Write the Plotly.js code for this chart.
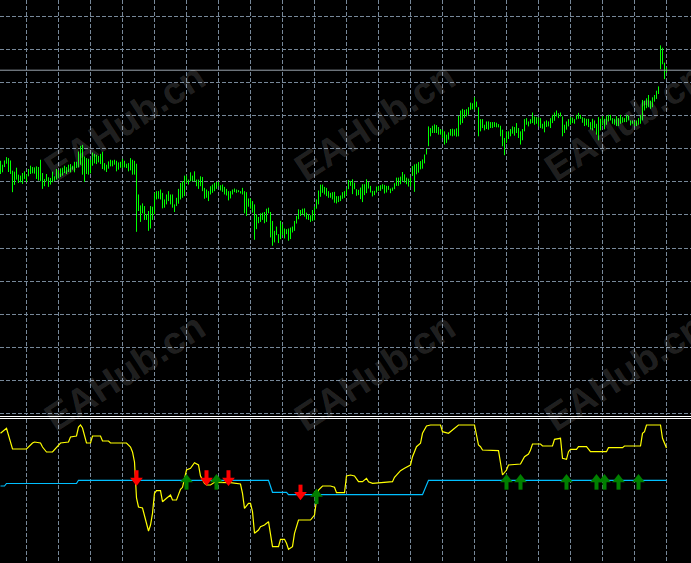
<!DOCTYPE html>
<html><head><meta charset="utf-8">
<script src="https://cdn.plot.ly/plotly-3.0.1.min.js"></script>
<style>html,body{margin:0;padding:0;background:#000;overflow:hidden}#chart{width:691px;height:563px}</style>
</head><body><div id="chart"></div>
<script>
// ---- price bars (high / low), one per bar index ----
const highs = [
1.30764,1.30752,1.30765,1.30775,1.30772,1.30765,1.30734,1.30731,1.30743,1.30722,
1.30719,1.30727,1.30732,1.30722,1.30739,1.30749,1.30745,1.30744,1.30747,1.30745,
1.30767,1.30727,1.30709,1.30724,1.30714,1.30712,1.30731,1.30717,1.30739,1.30735,
1.30741,1.30743,1.30749,1.30745,1.30752,1.30754,1.30749,1.30761,1.30761,1.30792,
1.30809,1.30812,1.30777,1.30772,1.30770,1.30767,1.30789,1.30785,1.30782,1.30779,
1.30785,1.30791,1.30757,1.30752,1.30762,1.30767,1.30765,1.30767,
1.30764,1.30759,1.30761,1.30770,1.30764,1.30755,1.30757,1.30772,1.30767,1.30764,
1.30755,1.30662,1.30629,1.30635,1.30627,1.30602,1.30612,1.30627,1.30625,1.30667,
1.30672,1.30672,1.30677,1.30667,1.30647,1.30662,1.30672,1.30662,1.30662,1.30632,
1.30652,1.30679,1.30697,1.30702,1.30719,1.30719,1.30707,1.30729,1.30719,1.30732,
1.30707,1.30707,1.30717,1.30715,1.30682,1.30677,1.30672,1.30687,1.30692,1.30697,
1.30700,1.30700,1.30690,1.30692,1.30685,1.30679,1.30672,
1.30672,1.30677,1.30680,1.30677,1.30675,1.30672,1.30682,1.30672,1.30669,1.30650,
1.30650,1.30642,1.30632,1.30602,1.30594,1.30605,1.30607,1.30609,1.30619,1.30622,
1.30609,1.30582,1.30552,1.30565,1.30542,1.30582,1.30572,1.30559,1.30557,1.30559,
1.30562,1.30565,1.30582,1.30597,1.30617,1.30615,1.30619,1.30620,1.30607,1.30602,
1.30599,1.30615,1.30625,1.30647,1.30674,1.30692,1.30692,1.30685,1.30682,1.30672,
1.30667,1.30669,1.30670,1.30657,1.30657,1.30659,1.30669,1.30672,
1.30680,1.30706,1.30703,1.30708,1.30698,1.30678,1.30676,1.30683,1.30693,1.30693,
1.30708,1.30700,1.30688,1.30673,1.30673,1.30686,1.30688,1.30690,1.30693,1.30691,
1.30688,1.30688,1.30680,1.30683,1.30696,1.30713,1.30713,1.30716,1.30730,1.30723,
1.30713,1.30710,1.30713,1.30748,1.30753,1.30755,1.30760,1.30763,1.30768,1.30783,
1.30800,1.30868,1.30863,1.30870,1.30874,1.30872,1.30866,1.30860,1.30858,1.30853,
1.30843,1.30850,1.30860,1.30861,1.30859,1.30862,1.30900,
1.30916,1.30921,1.30918,1.30920,1.30926,1.30940,1.30938,1.30956,1.30943,1.30926,
1.30890,1.30890,1.30873,1.30883,1.30883,1.30881,1.30881,1.30881,1.30879,1.30875,
1.30870,1.30858,1.30833,1.30853,1.30853,1.30860,1.30868,1.30866,1.30878,1.30863,
1.30853,1.30860,1.30890,1.30893,1.30883,1.30890,1.30910,1.30898,1.30896,1.30895,
1.30893,1.30876,1.30883,1.30886,1.30883,1.30893,1.30903,1.30910,1.30916,1.30908,
1.30910,1.30898,1.30873,1.30883,1.30890,1.30896,1.30895,1.30890,
1.30903,1.30909,1.30903,1.30896,1.30893,1.30891,1.30891,1.30881,1.30891,1.30886,
1.30876,1.30896,1.30891,1.30899,1.30891,1.30899,1.30903,1.30903,1.30893,1.30891,
1.30899,1.30893,1.30903,1.30896,1.30893,1.30903,1.30901,1.30886,1.30886,1.30883,
1.30886,1.30893,1.30903,1.30948,1.30946,1.30953,1.30963,1.30946,1.30956,1.30963,
1.30976,1.30989,1.31113,1.31106,1.31061,1.31046
];
const lows = [
1.30724,1.30729,1.30745,1.30755,1.30730,1.30724,1.30669,1.30691,1.30707,1.30697,
1.30699,1.30694,1.30709,1.30699,1.30717,1.30724,1.30726,1.30725,1.30709,1.30704,
1.30702,1.30679,1.30687,1.30702,1.30685,1.30692,1.30699,1.30703,1.30707,1.30711,
1.30715,1.30719,1.30727,1.30724,1.30730,1.30729,1.30737,1.30729,1.30742,1.30744,
1.30752,1.30722,1.30700,1.30724,1.30722,1.30726,1.30749,1.30756,1.30754,1.30759,
1.30754,1.30739,1.30735,1.30730,1.30740,1.30747,1.30747,1.30752,
1.30732,1.30737,1.30743,1.30742,1.30744,1.30742,1.30732,1.30735,1.30722,1.30722,
1.30549,1.30612,1.30579,1.30605,1.30585,1.30585,1.30552,1.30559,1.30585,1.30602,
1.30647,1.30649,1.30647,1.30620,1.30622,1.30632,1.30642,1.30632,1.30622,1.30609,
1.30627,1.30634,1.30647,1.30652,1.30657,1.30697,1.30692,1.30702,1.30702,1.30702,
1.30687,1.30679,1.30687,1.30672,1.30649,1.30652,1.30642,1.30662,1.30667,1.30672,
1.30679,1.30687,1.30674,1.30670,1.30662,1.30659,1.30644,
1.30650,1.30662,1.30669,1.30667,1.30669,1.30665,1.30662,1.30605,1.30597,1.30625,
1.30619,1.30607,1.30525,1.30557,1.30575,1.30579,1.30585,1.30575,1.30579,1.30605,
1.30532,1.30507,1.30517,1.30539,1.30515,1.30527,1.30539,1.30529,1.30542,1.30522,
1.30527,1.30547,1.30552,1.30574,1.30587,1.30597,1.30602,1.30595,1.30587,1.30585,
1.30579,1.30582,1.30584,1.30619,1.30632,1.30655,1.30667,1.30662,1.30657,1.30652,
1.30652,1.30647,1.30637,1.30635,1.30639,1.30642,1.30649,1.30652,
1.30660,1.30678,1.30688,1.30663,1.30678,1.30658,1.30660,1.30648,1.30639,1.30660,
1.30666,1.30680,1.30668,1.30656,1.30660,1.30668,1.30673,1.30673,1.30678,1.30665,
1.30668,1.30676,1.30666,1.30673,1.30678,1.30688,1.30688,1.30693,1.30703,1.30698,
1.30693,1.30686,1.30686,1.30718,1.30670,1.30723,1.30728,1.30738,1.30740,1.30756,
1.30783,1.30808,1.30838,1.30848,1.30848,1.30848,1.30843,1.30843,1.30833,1.30813,
1.30818,1.30828,1.30840,1.30838,1.30840,1.30837,1.30838,
1.30873,1.30878,1.30893,1.30898,1.30903,1.30918,1.30920,1.30918,1.30926,1.30838,
1.30853,1.30863,1.30856,1.30860,1.30858,1.30863,1.30863,1.30866,1.30865,1.30865,
1.30838,1.30808,1.30781,1.30818,1.30830,1.30838,1.30846,1.30840,1.30848,1.30833,
1.30813,1.30826,1.30853,1.30873,1.30868,1.30876,1.30878,1.30873,1.30876,1.30868,
1.30863,1.30861,1.30850,1.30866,1.30868,1.30863,1.30878,1.30885,1.30898,1.30893,
1.30898,1.30838,1.30848,1.30858,1.30868,1.30873,1.30878,1.30876,
1.30889,1.30891,1.30891,1.30879,1.30869,1.30871,1.30866,1.30859,1.30856,1.30863,
1.30843,1.30826,1.30856,1.30871,1.30859,1.30873,1.30883,1.30886,1.30876,1.30873,
1.30869,1.30869,1.30876,1.30879,1.30881,1.30881,1.30886,1.30871,1.30876,1.30869,
1.30869,1.30873,1.30876,1.30886,1.30916,1.30923,1.30926,1.30921,1.30926,1.30943,
1.30951,1.30966,1.31041,1.31056,1.31011,1.31031
];
const bidPrice = 1.31038;

// ---- indicator window: signal line (yellow) vertices ----
const sigBar = [0,3,6,13,16,17,20,21,23,26,30,34,35,38,39,40,41,42,43,45,46,50,51,54,55,63,65,66,67,68,69,71,73,74,75,76,77,78,80,81,83,85,86,88,90,91,93,95,97,99,100,102,103,105,107,115,120,121,122,124,125,126,127,129,130,132,134,135,136,139,140,142,143,144,146,147,149,155,157,158,159,161,165,167,168,172,173,175,177,179,181,183,184,186,190,196,197,200,202,205,206,208,210,211,213,215,220,221,224,226,229,237,239,240,241,249,250,251,253,254,260,262,264,265,266,270,271,276,277,280,281,283,284,285,288,289,293,295,303,304,311,312,320,321,322,323,330,331,333];
const sigVal = [4.70,5.20,3.13,3.13,3.73,3.83,3.73,3.33,2.83,2.83,3.73,3.83,4.33,4.43,5.33,5.53,5.23,4.33,3.73,3.73,4.43,4.43,3.93,3.93,3.73,3.73,3.33,2.83,1.83,-1.77,-2.67,-2.77,-4.27,-5.07,-4.47,-3.30,-1.30,-1.04,-1.04,-2.14,-1.80,-1.47,-1.97,-1.97,-0.90,-0.70,1.03,1.20,1.76,1.53,0.43,-0.30,-0.47,-0.47,-0.20,-0.24,-0.37,-1.30,-2.80,-2.30,-2.30,-3.14,-5.30,-4.97,-4.64,-4.47,-4.14,-5.64,-6.64,-6.64,-5.90,-5.90,-6.30,-6.90,-6.64,-5.30,-3.97,-3.97,-3.47,-1.97,-0.97,-0.57,-0.57,-0.70,-1.24,-1.24,0.43,0.53,0.43,-0.14,-0.14,0.20,-0.14,-0.30,-0.24,-0.14,0.30,0.96,1.20,1.53,2.36,3.36,3.70,4.70,5.43,5.53,5.53,4.86,4.70,5.03,5.53,5.53,3.53,3.36,3.03,2.96,1.70,0.53,1.03,1.53,1.63,2.36,2.63,3.03,3.63,3.63,3.43,3.43,4.10,4.20,2.20,2.10,2.86,3.10,3.10,3.36,3.36,2.86,2.86,3.26,3.26,3.43,3.43,4.70,4.86,5.53,5.53,4.20,3.23];

// ---- trend level (blue) vertices ----
const trendBar = [0,2,3,38,39,134,136,143,144,211,214,333];
const trendVal = [-0.57,-0.57,-0.32,-0.32,0,0,-1.2,-1.2,-1.44,-1.44,0,0];

// ---- signal arrows ----
const sellBar = [68,103,114,150];
const sellVal = [0,0,0,-1.44];
const buyBar = [93,108,158,253,260,283,298,302,309,319];
const buyVal = [0,0,-1.44,0,0,0,0,0,0,0];

const watermark = "EAHub.cn";

// ---------------- build ----------------
const bx = [], by = [];
for (let i = 0; i < highs.length; i++) { bx.push(i, i, null); by.push(lows[i], highs[i], null); }

const GRID = '#778899', DASH = '4px,2px';
const RED = '#ff0000', GREEN = '#008000';
const U = 0.1; // indicator units per pixel

function arrowTraces(bars, vals, color, down) {
  const c = vals.map(v => v + (down ? 0.15 : -0.08));
  const head = c.map(v => down ? v - 1.6 * U : v + 1.6 * U);
  const stem = c.map(v => down ? v + 4 * U : v - 4 * U);
  return [
    {x: bars, y: stem, xaxis: 'x2', yaxis: 'y2', type: 'scatter', mode: 'markers',
     marker: {symbol: 'line-ns', size: 6.5, color: color, line: {color: color, width: 4}}},
    {x: bars, y: head, xaxis: 'x2', yaxis: 'y2', type: 'scatter', mode: 'markers',
     marker: {symbol: down ? 'triangle-down' : 'triangle-up', size: 11, color: color, line: {width: 0}}}
  ];
}

const traces = [
  {x: bx, y: by, type: 'scatter', mode: 'lines', xaxis: 'x', yaxis: 'y',
   line: {color: '#00ff00', width: 1}, connectgaps: false},
  {x: trendBar, y: trendVal, type: 'scatter', mode: 'lines', xaxis: 'x2', yaxis: 'y2',
   line: {color: '#00bfff', width: 1.2}},
  {x: sigBar, y: sigVal, type: 'scatter', mode: 'lines', xaxis: 'x2', yaxis: 'y2',
   line: {color: '#ffff00', width: 1.2}},
  ...arrowTraces(sellBar, sellVal, RED, true),
  ...arrowTraces(buyBar, buyVal, GREEN, false)
];

const axBase = {showticklabels: false, zeroline: false, showline: false, ticks: '', fixedrange: true};
const xr = [-0.25, 345.25];
const wmPos = [[125,122],[375,122],[625,122],[125,372],[375,372],[625,372]];

const layout = {
  width: 691, height: 563,
  margin: {l: 0, r: 0, t: 0, b: 0, pad: 0},
  paper_bgcolor: '#000', plot_bgcolor: '#000',
  showlegend: false, hovermode: false,
  xaxis: Object.assign({}, axBase, {domain: [0, 1], range: xr, anchor: 'y', tickmode: 'linear', tick0: 13, dtick: 16,
    showgrid: true, gridcolor: GRID, griddash: DASH, gridwidth: 1}),
  yaxis: Object.assign({}, axBase, {domain: [148/563, 1], range: [1.2999476, 1.3125044], anchor: 'x',
    tickmode: 'linear', tick0: 1.3, dtick: 0.001, showgrid: true, gridcolor: GRID, griddash: DASH, gridwidth: 1}),
  xaxis2: Object.assign({}, axBase, {domain: [0, 1], range: xr, anchor: 'y2', tickmode: 'linear', tick0: 13, dtick: 16,
    showgrid: true, gridcolor: GRID, griddash: DASH, gridwidth: 1}),
  yaxis2: Object.assign({}, axBase, {domain: [0, 144/563], range: [-8.27, 6.13], anchor: 'x2', showgrid: false}),
  shapes: [
    {type: 'line', xref: 'x', yref: 'y', x0: xr[0], x1: xr[1], y0: bidPrice, y1: bidPrice,
     line: {color: '#9aa3ad', width: 1}},
    {type: 'line', xref: 'paper', yref: 'paper', x0: 0, x1: 1, y0: 1 - 416.5/563, y1: 1 - 416.5/563,
     line: {color: '#ffffff', width: 1}},
    {type: 'line', xref: 'paper', yref: 'paper', x0: 0, x1: 1, y0: 1 - 418.5/563, y1: 1 - 418.5/563,
     line: {color: '#ffffff', width: 1}}
  ],
  annotations: wmPos.map(p => ({
    xref: 'paper', yref: 'paper', x: p[0]/691, y: 1 - p[1]/563, xanchor: 'center', yanchor: 'middle',
    text: watermark, showarrow: false, textangle: -33,
    font: {family: 'Liberation Sans, Arial, sans-serif', size: 38, weight: 'bold', color: 'rgba(255,255,255,0.15)'}
  }))
};

Plotly.newPlot('chart', traces, layout, {staticPlot: true, displayModeBar: false});
</script>
</body></html>
